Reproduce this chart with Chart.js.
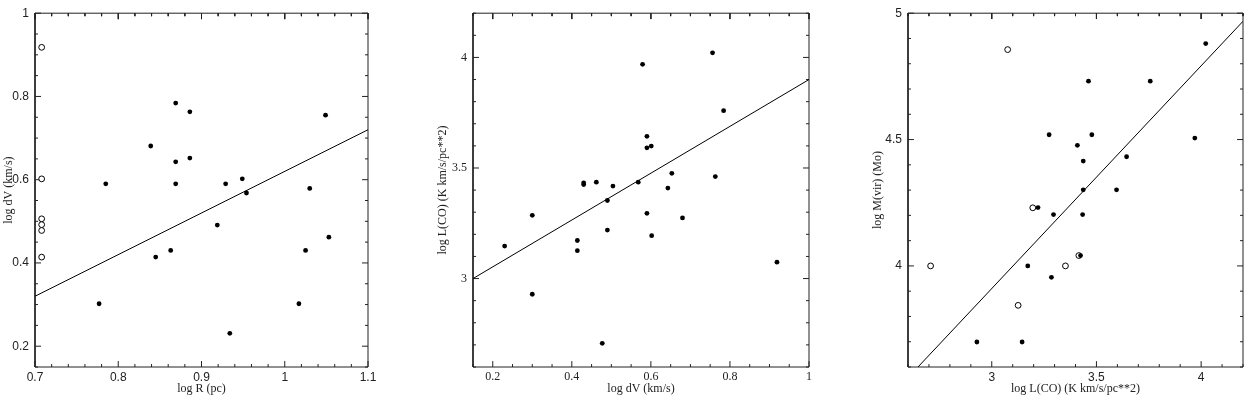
<!DOCTYPE html>
<html>
<head>
<meta charset="utf-8">
<script src="https://cdn.jsdelivr.net/npm/chart.js@4.4.0/dist/chart.umd.min.js"></script>
<style>
  body { margin: 0; background: #fff; width: 1248px; height: 396px; position: relative; overflow: hidden; }
  .panel { position: absolute; top: 0; height: 396px; }
</style>
</head>
<body>
<div class="panel" style="left:0;width:390px"><canvas id="c1"></canvas></div>
<div class="panel" style="left:430px;width:400px"><canvas id="c2"></canvas></div>
<div class="panel" style="left:860px;width:388px"><canvas id="c3"></canvas></div>
<script>
// Panel 1: log R (pc) vs log dV (km/s)
const p1FilledX = [0.785, 0.777, 0.839, 0.845, 0.863, 0.869, 0.869, 0.869, 0.886, 0.886, 0.919, 0.929, 0.934, 0.949, 0.954, 1.017, 1.025, 1.030, 1.049, 1.053];
const p1FilledY = [0.590, 0.302, 0.681, 0.414, 0.430, 0.784, 0.643, 0.590, 0.763, 0.652, 0.491, 0.590, 0.231, 0.602, 0.568, 0.302, 0.430, 0.579, 0.755, 0.462];
const p1OpenX = [0.708, 0.708, 0.708, 0.708, 0.708, 0.708];
const p1OpenY = [0.918, 0.602, 0.506, 0.492, 0.478, 0.414];
const p1FitX = [0.7, 1.1];
const p1FitY = [0.32, 0.72];

// Panel 2: log dV (km/s) vs log L(CO)
const p2FilledX = [0.230, 0.300, 0.300, 0.414, 0.414, 0.430, 0.430, 0.462, 0.477, 0.490, 0.490, 0.504, 0.568, 0.579, 0.590, 0.590, 0.590, 0.601, 0.602, 0.643, 0.653, 0.680, 0.756, 0.763, 0.784, 0.919];
const p2FilledY = [3.147, 3.286, 2.929, 3.172, 3.126, 3.433, 3.425, 3.436, 2.707, 3.353, 3.219, 3.418, 3.436, 3.969, 3.643, 3.591, 3.295, 3.599, 3.194, 3.409, 3.476, 3.274, 4.021, 3.461, 3.759, 3.074];
const p2FitX = [0.15, 1.0];
const p2FitY = [3.0, 3.9];

// Panel 3: log L(CO) vs log M(vir)
const p3FilledX = [2.929, 3.145, 3.172, 3.221, 3.274, 3.285, 3.295, 3.409, 3.424, 3.437, 3.434, 3.437, 3.462, 3.478, 3.596, 3.644, 3.757, 3.970, 4.022];
const p3FilledY = [3.699, 3.699, 4.000, 4.231, 4.519, 3.955, 4.203, 4.477, 4.041, 4.415, 4.203, 4.301, 4.731, 4.519, 4.301, 4.432, 4.731, 4.506, 4.880];
const p3OpenX = [3.076, 2.708, 3.196, 3.126, 3.352, 3.416];
const p3OpenY = [4.856, 4.000, 4.230, 3.844, 4.000, 4.041];
const p3FitX = [2.6, 4.2];
const p3FitY = [3.558, 4.968];

const serif = "'Liberation Serif', 'DejaVu Serif', serif";
const sans = "'Liberation Sans', 'DejaVu Sans', sans-serif";

function toPoints(xs, ys) {
  return xs.map((x, i) => ({ x: x, y: ys[i] }));
}

function isMajor(v, major) {
  let r = v / major;
  return Math.abs(r - Math.round(r)) < 1e-6;
}

function fmt(v) {
  return String(parseFloat(v.toFixed(3)));
}

// box round the plot, drawn as a line through the axis corners
function boxPoints(p) {
  return [
    { x: p.xMin, y: p.yMin }, { x: p.xMax, y: p.yMin },
    { x: p.xMax, y: p.yMax }, { x: p.xMin, y: p.yMax },
    { x: p.xMin, y: p.yMin },
  ];
}

// inward ticks on all four sides, as short segments split by gaps
function tickPoints(p) {
  const inY = px => (px / p.plotH) * (p.yMax - p.yMin);
  const inX = px => (px / p.plotW) * (p.xMax - p.xMin);
  let pts = [];
  let nx = Math.round((p.xMax - p.xMin) / p.minorX);
  for (let i = 0; i <= nx; i++) {
    let v = p.xMin + i * p.minorX;
    let h = inY(isMajor(v, p.majorX) ? 6 : 3);
    pts.push({ x: v, y: p.yMin }, { x: v, y: p.yMin + h }, { x: v, y: null });
    pts.push({ x: v, y: p.yMax }, { x: v, y: p.yMax - h }, { x: v, y: null });
  }
  let ny = Math.round((p.yMax - p.yMin) / p.minorY);
  for (let i = 0; i <= ny; i++) {
    let v = p.yMin + i * p.minorY;
    let w = inX(isMajor(v, p.majorY) ? 6 : 3);
    pts.push({ x: p.xMin, y: v }, { x: p.xMin + w, y: v }, { x: p.xMin + w, y: null });
    pts.push({ x: p.xMax, y: v }, { x: p.xMax - w, y: v }, { x: p.xMax - w, y: null });
  }
  return pts;
}

function makeChart(id, p) {
  let datasets = [
    {
      type: "scatter",
      data: toPoints(p.filledX, p.filledY),
      pointRadius: 2.4,
      backgroundColor: "#000",
      borderWidth: 0,
    },
  ];
  if (p.openX) {
    datasets.push({
      type: "scatter",
      data: toPoints(p.openX, p.openY),
      pointRadius: 2.9,
      backgroundColor: "#fff",
      borderColor: "#000",
      borderWidth: 1,
    });
  }
  datasets.push({
    type: "line",
    data: toPoints(p.fitX, p.fitY),
    showLine: true,
    pointRadius: 0,
    borderColor: "#000",
    borderWidth: 1,
  });
  datasets.push({
    type: "line",
    data: boxPoints(p),
    showLine: true,
    pointRadius: 0,
    borderColor: "#222",
    borderWidth: 1,
    clip: false,
  });
  datasets.push({
    type: "line",
    data: tickPoints(p),
    showLine: true,
    spanGaps: false,
    pointRadius: 0,
    borderColor: "#222",
    borderWidth: 1,
    clip: false,
  });

  return new Chart(document.getElementById(id), {
    type: "scatter",
    data: { datasets: datasets },
    options: {
      responsive: true,
      maintainAspectRatio: false,
      animation: false,
      events: [],
      layout: { padding: { top: p.padTop, right: p.padRight, left: 0, bottom: 0 } },
      plugins: {
        legend: { display: false },
        tooltip: { enabled: false },
      },
      scales: {
        x: {
          type: "linear",
          min: p.xMin,
          max: p.xMax,
          afterFit: s => { s.height = 29; },
          grid: { display: false, drawTicks: false },
          border: { display: false },
          ticks: {
            stepSize: p.minorX,
            autoSkip: false,
            maxRotation: 0,
            padding: 3,
            color: "#222",
            font: { family: p.tickFont, size: 12 },
            callback: v => (isMajor(v, p.majorX) ? fmt(v) : ""),
          },
          title: {
            display: true,
            text: p.xTitle,
            color: "#222",
            font: { family: serif, size: 12 },
            padding: { top: 0, bottom: 0 },
          },
        },
        y: {
          type: "linear",
          min: p.yMin,
          max: p.yMax,
          afterFit: s => { s.width = p.yWidth; },
          grid: { display: false, drawTicks: false },
          border: { display: false },
          ticks: {
            stepSize: p.minorY,
            autoSkip: false,
            padding: 6,
            color: "#222",
            font: { family: p.tickFont, size: 12 },
            callback: v => (isMajor(v, p.majorY) ? fmt(v) : ""),
          },
          title: {
            display: true,
            text: p.yTitle,
            color: "#222",
            font: { family: serif, size: 12 },
            padding: { top: p.yTitlePad, bottom: 0 },
          },
        },
      },
    },
  });
}

const chart1 = makeChart("c1", {
  filledX: p1FilledX, filledY: p1FilledY,
  openX: p1OpenX, openY: p1OpenY,
  fitX: p1FitX, fitY: p1FitY,
  xMin: 0.7, xMax: 1.1, minorX: 0.02, majorX: 0.1,
  yMin: 0.15, yMax: 1.0, minorY: 0.05, majorY: 0.2,
  xTitle: "log R (pc)", yTitle: "log dV (km/s)",
  tickFont: sans, yWidth: 35, yTitlePad: 2, padTop: 10, padRight: 22,
  plotW: 333, plotH: 357,
});

const chart2 = makeChart("c2", {
  filledX: p2FilledX, filledY: p2FilledY,
  fitX: p2FitX, fitY: p2FitY,
  xMin: 0.15, xMax: 1.0, minorX: 0.05, majorX: 0.2,
  yMin: 2.6, yMax: 4.2, minorY: 0.1, majorY: 0.5,
  xTitle: "log dV (km/s)", yTitle: "log L(CO) (K km/s/pc**2)",
  tickFont: serif, yWidth: 43, yTitlePad: 6, padTop: 5, padRight: 21,
  plotW: 336, plotH: 362,
});

const chart3 = makeChart("c3", {
  filledX: p3FilledX, filledY: p3FilledY,
  openX: p3OpenX, openY: p3OpenY,
  fitX: p3FitX, fitY: p3FitY,
  xMin: 2.6, xMax: 4.2, minorX: 0.1, majorX: 0.5,
  yMin: 3.6, yMax: 5.0, minorY: 0.1, majorY: 0.5,
  xTitle: "log L(CO) (K km/s/pc**2)", yTitle: "log M(vir) (Mo)",
  tickFont: sans, yWidth: 48, yTitlePad: 11, padTop: 3, padRight: 1,
  plotW: 339, plotH: 364,
});
</script>
</body>
</html>
